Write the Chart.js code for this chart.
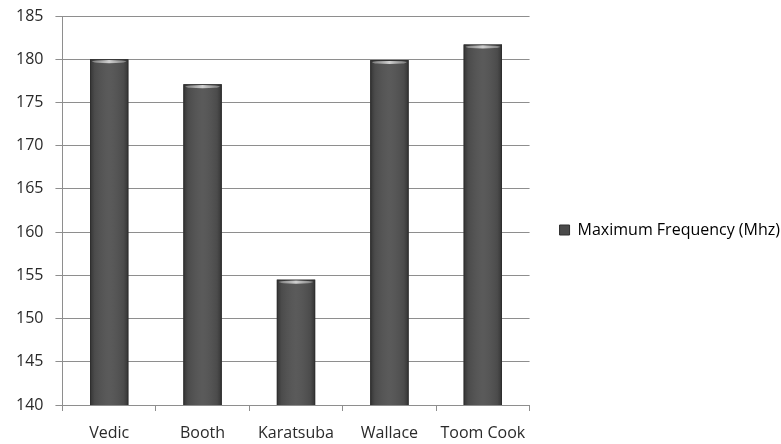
<!DOCTYPE html>
<html>
<head>
<meta charset="utf-8">
<title>Maximum Frequency (Mhz)</title>
<script src="https://cdn.jsdelivr.net/npm/chart.js@4/dist/chart.umd.min.js"></script>
<style>
  html, body { margin: 0; padding: 0; background: #ffffff; }
  #wrap { width: 781px; height: 444px; }
</style>
</head>
<body>
<div id="wrap"><canvas id="chart" width="781" height="444"></canvas></div>
<script>
// Multiplier designs and their maximum operating frequency
const categories = ['Vedic', 'Booth', 'Karatsuba', 'Wallace', 'Toom Cook'];
const maxFrequency = [180, 177.1, 154.5, 179.9, 181.7];
const seriesLabel = 'Maximum Frequency (Mhz)';
const yTicks = { min: 140, max: 185, step: 5 };

const FONT = '"Open Sans", "Liberation Sans", sans-serif';
const TEXT = '#2a2a2a';
const GRID = '#8e8e8e';

// Shading for each bar: darker sides, lighter rounded cap on top
const barShading = {
  id: 'barShading',
  afterDatasetsDraw(chart) {
    const ctx = chart.ctx;
    const area = chart.chartArea;
    const meta = chart.getDatasetMeta(0);
    ctx.save();
    ctx.beginPath();
    ctx.rect(area.left, area.top, area.right - area.left, area.bottom - area.top);
    ctx.clip();
    meta.data.forEach((bar) => {
      const { x, y, base, width } = bar.getProps(['x', 'y', 'base', 'width'], true);
      const bottom = Math.min(base, area.bottom);
      const left = x - width / 2;
      const right = x + width / 2;
      const g = ctx.createLinearGradient(left, 0, right, 0);
      g.addColorStop(0, 'rgba(30,30,30,0.55)');
      g.addColorStop(0.12, 'rgba(30,30,30,0.1)');
      g.addColorStop(0.5, 'rgba(255,255,255,0.06)');
      g.addColorStop(0.88, 'rgba(30,30,30,0.1)');
      g.addColorStop(1, 'rgba(30,30,30,0.55)');
      ctx.fillStyle = g;
      ctx.fillRect(left, y, width, bottom - y);
      ctx.strokeStyle = '#2f2f2f';
      ctx.lineWidth = 1;
      ctx.strokeRect(left + 0.5, y + 0.5, width - 1, bottom - y);
      // cap highlight
      const cg = ctx.createLinearGradient(left, 0, right, 0);
      cg.addColorStop(0, 'rgba(150,150,150,0.6)');
      cg.addColorStop(0.5, 'rgba(215,215,215,0.95)');
      cg.addColorStop(1, 'rgba(150,150,150,0.6)');
      ctx.fillStyle = cg;
      ctx.beginPath();
      ctx.ellipse(x, y + 2.4, width / 2 - 2, 1.6, 0, 0, Math.PI * 2);
      ctx.fill();
    });
    ctx.restore();
  }
};

// Let the right-hand legend take the width its label needs
const wideLegend = {
  id: 'wideLegend',
  afterInit(chart) {
    const legend = chart.legend;
    if (!legend) return;
    const fit = legend.fit;
    legend.fit = function () {
      this.maxWidth = Math.max(this.maxWidth, 300);
      return fit.call(this);
    };
  }
};

new Chart(document.getElementById('chart'), {
  type: 'bar',
  data: {
    labels: categories,
    datasets: [{
      label: seriesLabel,
      data: maxFrequency,
      backgroundColor: '#505050',
      borderWidth: 0,
      barPercentage: 0.82,
      categoryPercentage: 0.5
    }]
  },
  options: {
    responsive: false,
    devicePixelRatio: 1,
    animation: false,
    layout: { padding: { left: 4, top: 16, right: -9, bottom: 0 } },
    plugins: {
      tooltip: { enabled: false },
      legend: {
        position: 'right',
        labels: {
          boxWidth: 10,
          boxHeight: 10,
          padding: 30,
          color: TEXT,
          font: { family: FONT, size: 16 },
          generateLabels(chart) {
            return chart.data.datasets.map((ds, i) => ({
              text: ds.label,
              fillStyle: '#4a4a4a',
              strokeStyle: '#2f2f2f',
              lineWidth: 1,
              datasetIndex: i
            }));
          }
        }
      }
    },
    scales: {
      x: {
        offset: true,
        grid: {
          offset: true,
          drawOnChartArea: false,
          drawTicks: true,
          tickLength: 6,
          color: GRID
        },
        border: { color: GRID, width: 1 },
        ticks: {
          color: TEXT,
          font: { family: FONT, size: 16 },
          padding: 13,
          maxRotation: 0,
          minRotation: 0,
          autoSkip: false
        },
        afterFit(scale) { scale.height = 39; }
      },
      y: {
        min: yTicks.min,
        max: yTicks.max,
        grid: { color: GRID, lineWidth: 1, tickLength: 7 },
        border: { color: GRID, width: 1 },
        ticks: {
          stepSize: yTicks.step,
          color: TEXT,
          font: { family: FONT, size: 16 },
          padding: 12
        },
        afterFit(scale) { scale.paddingTop = 0; scale.paddingBottom = 0; }
      }
    }
  },
  plugins: [barShading, wideLegend]
});
</script>
</body>
</html>
